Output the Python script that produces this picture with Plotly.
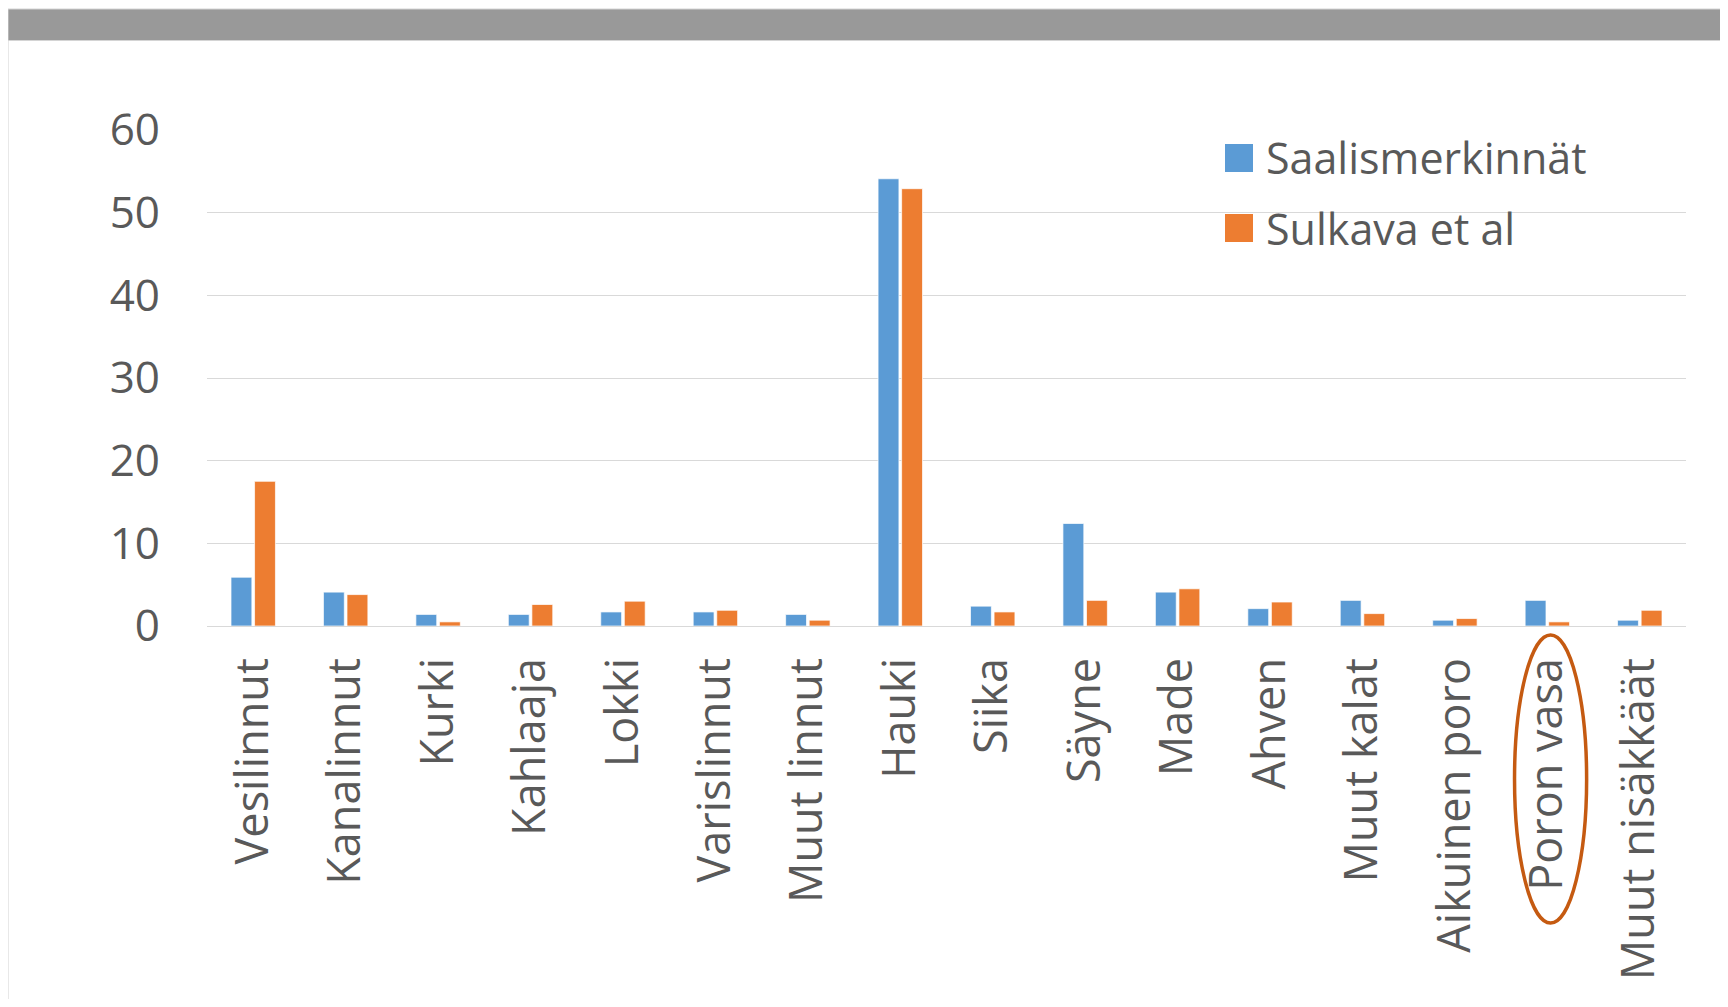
import plotly.graph_objects as go

categories = ["Vesilinnut", "Kanalinnut", "Kurki", "Kahlaaja", "Lokki", "Varislinnut",
              "Muut linnut", "Hauki", "Siika", "Säyne", "Made", "Ahven", "Muut kalat",
              "Aikuinen poro", "Poron vasa", "Muut nisäkkäät"]
series_names = ["Saalismerkinnät", "Sulkava et al"]
saalismerkinnat = [5.9, 4.1, 1.4, 1.4, 1.7, 1.7, 1.4, 54.1, 2.4, 12.4, 4.1, 2.1, 3.1, 0.7, 3.1, 0.7]
sulkava = [17.5, 3.8, 0.5, 2.6, 3.0, 1.9, 0.7, 52.9, 1.7, 3.1, 4.5, 2.9, 1.5, 0.9, 0.5, 1.9]
y_ticks = [0, 10, 20, 30, 40, 50, 60]
highlighted = "Poron vasa"

colors = ["#5B9BD5", "#ED7D31"]
text_color = "#595959"
font_family = "Open Sans, Noto Sans, sans-serif"

# page has an 8px body margin; work in page pixels and convert
OFF = 8
W, H = 1712, 991
L, T = 207 - OFF, 130 - OFF
R = W - (1686 - OFF)
B = H - (626 - OFF)
pw, ph = W - L - R, H - T - B

def px_x(p):
    return (p - OFF - L) / pw

def px_y(p):
    return (H - B - (p - OFF)) / ph

fig = go.Figure()
for name, vals, col in zip(series_names, [saalismerkinnat, sulkava], colors):
    fig.add_trace(go.Bar(
        x=categories, y=vals, name=name,
        marker=dict(color=col, line=dict(color="rgba(255,255,255,0.7)", width=1)),
        showlegend=False,
    ))

shapes = []
# top gray band
shapes.append(dict(type="rect", xref="paper", yref="paper",
                   x0=px_x(8), x1=px_x(1760), y0=px_y(40.5), y1=px_y(9),
                   fillcolor="#999999", line=dict(color="#d4d4d4", width=1), layer="above"))
# faint left frame line
shapes.append(dict(type="line", xref="paper", yref="paper",
                   x0=px_x(8.5), x1=px_x(8.5), y0=px_y(41), y1=px_y(1007),
                   line=dict(color="#e8e8e8", width=1)))

# manual legend (large square keys)
annotations = []
leg_rows = [158, 228]
for name, col, yc in zip(series_names, colors, leg_rows):
    shapes.append(dict(type="rect", xref="paper", yref="paper",
                       x0=px_x(1225), x1=px_x(1253), y0=px_y(yc + 14), y1=px_y(yc - 14),
                       fillcolor=col, line=dict(width=0)))
    annotations.append(dict(xref="paper", yref="paper", x=px_x(1264), y=px_y(yc),
                            text=name, showarrow=False, xanchor="left", yanchor="middle",
                            font=dict(size=43, color=text_color, family=font_family)))

# ellipse around highlighted category label
idx = categories.index(highlighted)
shapes.append(dict(type="circle", xref="x", yref="paper",
                   x0=idx - 0.355, x1=idx + 0.425, y0=px_y(923), y1=px_y(635),
                   line=dict(color="#C55A11", width=3.5)))

fig.update_layout(
    width=W, height=H,
    margin=dict(l=L, r=R, t=T, b=B, pad=0),
    paper_bgcolor="white", plot_bgcolor="white",
    barmode="group", bargap=0.49, bargroupgap=0.115,
    font=dict(family=font_family, color=text_color, size=43),
    shapes=shapes, annotations=annotations,
    xaxis=dict(tickangle=-90, showgrid=False, showline=False, ticks="",
               tickfont=dict(size=45, color=text_color), ticklabelstandoff=22,
               fixedrange=True),
    yaxis=dict(range=[0, 60], tickvals=y_ticks, showgrid=True, gridcolor="#d9d9d9",
               gridwidth=1, zeroline=True, zerolinecolor="#d9d9d9", zerolinewidth=1,
               showline=False, ticks="", tickfont=dict(size=44, color=text_color),
               ticklabelstandoff=46, fixedrange=True),
)

fig.write_html("out.html")
